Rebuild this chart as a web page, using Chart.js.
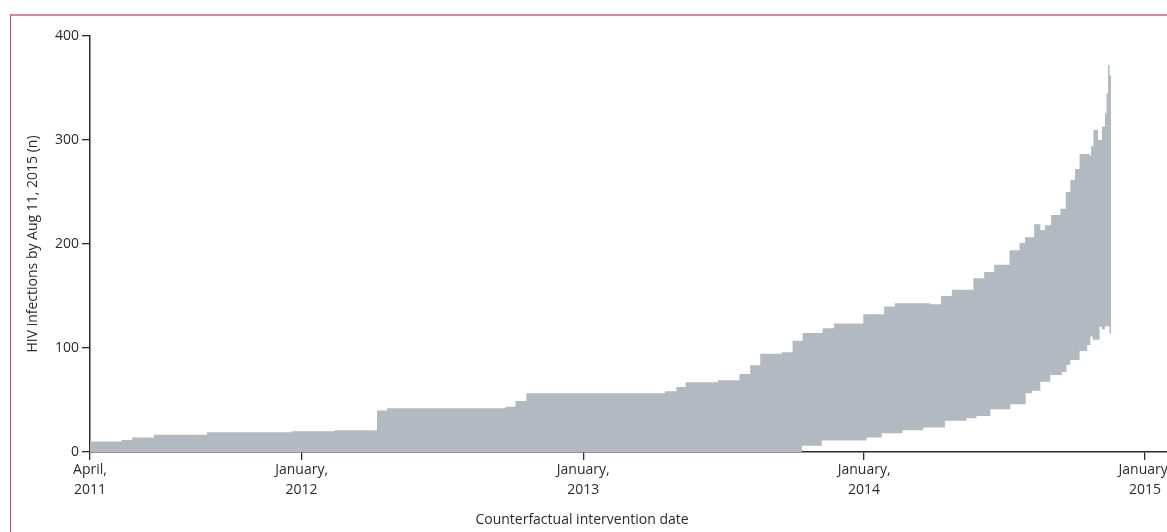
<!DOCTYPE html>
<html>
<head>
<meta charset="utf-8">
<title>HIV infections by counterfactual intervention date</title>
<script src="https://cdn.jsdelivr.net/npm/chart.js@4.4.1/dist/chart.umd.min.js"></script>
<style>
  html, body { margin: 0; padding: 0; background: #fff; overflow: hidden; }
  #wrap { position: relative; width: 1167px; height: 532px; overflow: hidden; }
  #chart-box { position: absolute; left: 0; top: 0; width: 1200px; height: 532px; }
  #frame {
    position: absolute; left: 10px; top: 14px; width: 1200px; height: 600px;
    border-top: 2px solid #d8869d; border-left: 1.5px solid #d5457b;
    pointer-events: none;
  }
  #x-title {
    position: absolute; left: 432px; width: 300px; top: 509px;
    text-align: center; font: 14px "Open Sans", sans-serif; color: #2b2b2b; white-space: nowrap;
  }
</style>
</head>
<body>
<div id="wrap">
  <div id="frame"></div>
  <div id="chart-box"><canvas id="band-chart"></canvas></div>
  <div id="x-title">Counterfactual intervention date</div>
</div>
<script>
// Upper bound of the band (value holds from each date until the next)
const upperDates = [
  '2011-04-01', '2011-05-12', '2011-05-26', '2011-06-23', '2011-08-31', '2011-12-19',
  '2012-02-13', '2012-04-08', '2012-04-21', '2012-09-22', '2012-10-05', '2012-10-19',
  '2013-04-17', '2013-05-02', '2013-05-14', '2013-06-25', '2013-07-23', '2013-08-06',
  '2013-08-19', '2013-09-16', '2013-09-30', '2013-10-13', '2013-11-08', '2013-11-23',
  '2013-12-31', '2014-01-27', '2014-02-10', '2014-03-28', '2014-04-11', '2014-04-25',
  '2014-05-23', '2014-06-06', '2014-06-19', '2014-07-09', '2014-07-22', '2014-07-29',
  '2014-08-10', '2014-08-18', '2014-08-24', '2014-09-01', '2014-09-13', '2014-09-20',
  '2014-09-26', '2014-10-02', '2014-10-08', '2014-10-21', '2014-10-23', '2014-10-26',
  '2014-11-01', '2014-11-06', '2014-11-10', '2014-11-12', '2014-11-14', '2014-11-16',
  '2014-11-18'
];
const upperValues = [
  10, 11.5, 14, 16.5, 19, 20,
  21, 40, 42, 43.5, 49, 56.5,
  58.5, 62.5, 67, 69, 75, 83.5,
  94.5, 96, 107, 114.5, 119, 123.5,
  132.5, 140, 143, 142, 150, 156,
  167, 173, 180, 194, 201, 206.5,
  219, 213.5, 218, 228, 234, 250,
  261.5, 272, 286.5, 285, 294, 309.5,
  300, 313, 325.5, 345, 372, 362,
  362
];

// Lower bound of the band
const lowerDates = [
  '2011-04-01', '2013-10-12', '2013-11-07', '2014-01-04', '2014-01-24', '2014-02-20',
  '2014-03-19', '2014-04-16', '2014-05-14', '2014-05-27', '2014-06-14', '2014-07-10',
  '2014-07-30', '2014-08-07', '2014-08-18', '2014-08-31', '2014-09-15', '2014-09-21',
  '2014-09-26', '2014-10-08', '2014-10-18', '2014-10-22', '2014-10-25', '2014-11-03',
  '2014-11-06', '2014-11-10', '2014-11-16', '2014-11-18'
];
const lowerValues = [
  0, 6, 11, 14, 18, 21,
  23.5, 30, 32.5, 34.5, 41, 46,
  56.5, 59, 67.5, 74, 77, 84,
  88.5, 97, 103, 111, 108, 120.5,
  118, 121, 114, 114
];

// Axis ticks
const xTickDates = ['2011-04-01', '2012-01-01', '2013-01-01', '2014-01-01', '2015-01-01'];
const xTickLabels = [['April,', '2011'], ['January,', '2012'], ['January,', '2013'], ['January,', '2014'], ['January,', '2015']];
const xMinDate = '2011-04-01';
const xMaxDate = '2015-03-07';
const yTicks = [0, 100, 200, 300, 400];

const BAND = '#b2b9c0';
const INK = '#2b2b2b';

Chart.defaults.font.family = '"Open Sans", sans-serif';
Chart.defaults.font.size = 14;
Chart.defaults.color = INK;

const toPoints = (dates, values) => dates.map((d, i) => ({ x: Date.parse(d), y: values[i] }));
const xTickTimes = xTickDates.map(d => Date.parse(d));

new Chart(document.getElementById('band-chart'), {
  type: 'line',
  data: {
    datasets: [
      {
        label: 'Lower',
        data: toPoints(lowerDates, lowerValues),
        stepped: true,
        fill: false,
        borderColor: BAND,
        borderWidth: 0,
        pointRadius: 0
      },
      {
        label: 'Upper',
        data: toPoints(upperDates, upperValues),
        stepped: true,
        fill: 0,
        backgroundColor: BAND,
        borderColor: BAND,
        borderWidth: 0,
        pointRadius: 0
      }
    ]
  },
  options: {
    responsive: true,
    maintainAspectRatio: false,
    animation: false,
    layout: { padding: { top: 36, left: 10, right: 5, bottom: 0 } },
    plugins: {
      legend: { display: false },
      tooltip: { enabled: false }
    },
    scales: {
      x: {
        type: 'linear',
        min: Date.parse(xMinDate),
        max: Date.parse(xMaxDate),
        afterBuildTicks: scale => { scale.ticks = xTickTimes.map(v => ({ value: v })); },
        afterFit: scale => { scale.height = 80; },
        ticks: {
          autoSkip: false,
          maxRotation: 0,
          padding: 0,
          font: { size: 14, lineHeight: 1.45 },
          callback: value => xTickLabels[xTickTimes.indexOf(value)]
        },
        grid: { drawOnChartArea: false, tickLength: 8, color: INK, lineWidth: 1.3 },
        border: { display: true, color: INK, width: 1.5 }
      },
      y: {
        min: 0,
        max: 400,
        afterBuildTicks: scale => { scale.ticks = yTicks.map(v => ({ value: v })); },
        afterFit: scale => { scale.width = 80; },
        ticks: { padding: 3, font: { size: 14 } },
        grid: { drawOnChartArea: false, tickLength: 8, color: INK, lineWidth: 1.3 },
        border: { display: true, color: INK, width: 1.5 },
        title: {
          display: true,
          text: 'HIV infections by Aug 11, 2015 (n)',
          font: { size: 14 },
          padding: { top: 15, bottom: 0 }
        }
      }
    }
  }
});
</script>
</body>
</html>
